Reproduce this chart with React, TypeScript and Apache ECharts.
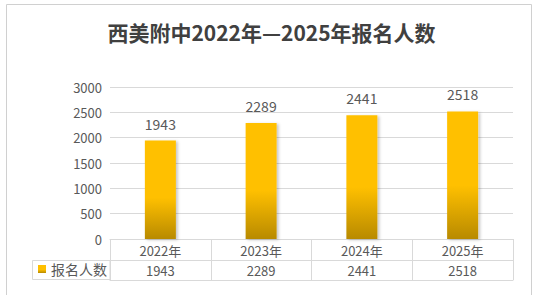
import React, { useEffect, useRef } from "react";
import * as echarts from "echarts";

const titleText = "西美附中2022年—2025年报名人数";
const categories = ["2022年", "2023年", "2024年", "2025年"];
const seriesName = "报名人数";
const values = [1943, 2289, 2441, 2518];
const yTicks = [0, 500, 1000, 1500, 2000, 2500, 3000];

const FONT = "'Noto Sans CJK SC', 'Noto Sans', sans-serif";
const TEXT = "#595959";
const LINE = "#d9d9d9";

export default function App() {
  const ref = useRef<HTMLDivElement>(null);
  useEffect(() => {
    if (!ref.current) return;
    const chart = echarts.init(ref.current, undefined, { renderer: "svg" });
    const gridLeft = 110;
    const gridRight = 30;
    const gridTop = 87;
    const gridBottomY = 239;
    chart.setOption({
      animation: false,
      backgroundColor: "#ffffff",
      textStyle: { fontFamily: FONT },
      title: {
        text: titleText,
        left: "center",
        top: 21,
        padding: 0,
        textStyle: { fontSize: 21, fontWeight: "bold", color: "#404040", fontFamily: FONT },
      },
      legend: {
        data: [seriesName],
        left: 38,
        top: 262,
        padding: 0,
        icon: "rect",
        itemWidth: 8,
        itemHeight: 8,
        textStyle: { fontSize: 14, color: TEXT, fontFamily: FONT },
      },
      grid: {
        left: gridLeft,
        right: gridRight,
        top: gridTop,
        bottom: 295 - gridBottomY,
        containLabel: false,
      },
      xAxis: [
        {
          type: "category",
          data: categories,
          position: "bottom",
          axisLine: { show: true, lineStyle: { color: LINE, width: 1 } },
          axisTick: { show: true, length: 41, lineStyle: { color: LINE, width: 1 } },
          axisLabel: { color: TEXT, fontSize: 13, margin: 5, fontFamily: FONT },
        },
        {
          type: "category",
          data: values.map((v) => String(v)),
          position: "bottom",
          offset: 21,
          axisLine: { show: true, lineStyle: { color: LINE, width: 1 } },
          axisTick: { show: false },
          axisLabel: { color: TEXT, fontSize: 13, margin: 4, fontFamily: FONT },
        },
        {
          type: "category",
          data: categories,
          position: "bottom",
          offset: 41,
          axisLine: { show: true, lineStyle: { color: LINE, width: 1 } },
          axisTick: { show: false },
          axisLabel: { show: false },
        },
      ],
      yAxis: {
        type: "value",
        min: yTicks[0],
        max: yTicks[yTicks.length - 1],
        interval: yTicks[1] - yTicks[0],
        axisLine: { show: false },
        axisTick: { show: false },
        axisLabel: {
          color: TEXT,
          fontSize: 13,
          margin: 8,
          fontFamily: FONT,
          formatter: (v: number) => String(v),
        },
        splitLine: { show: true, lineStyle: { color: LINE, width: 1 } },
      },
      series: [
        {
          name: seriesName,
          type: "bar",
          xAxisIndex: 0,
          data: values,
          barWidth: 31,
          itemStyle: {
            color: new echarts.graphic.LinearGradient(0, 0, 0, 1, [
              { offset: 0, color: "#FFC000" },
              { offset: 0.58, color: "#FFC000" },
              { offset: 1, color: "#B88A00" },
            ]),
            shadowColor: "rgba(0,0,0,0.22)",
            shadowBlur: 3,
            shadowOffsetX: 2,
            shadowOffsetY: 1,
          },
          label: {
            show: true,
            position: "top",
            distance: 10,
            color: TEXT,
            fontSize: 14,
            fontFamily: FONT,
          },
        },
      ],
      graphic: [
        {
          type: "rect",
          silent: true,
          z: -10,
          shape: { x: 6.5, y: 4.5, width: 525, height: 310 },
          style: { fill: "none", stroke: "#d0d0d0", lineWidth: 1 },
        },
        {
          type: "rect",
          silent: true,
          shape: { x: 32.5, y: 260.5, width: 77.5, height: 19 },
          style: { fill: "none", stroke: LINE, lineWidth: 1 },
        },
      ],
    });
    return () => chart.dispose();
  }, []);
  return (
    <div
      ref={ref}
      style={{ position: "fixed", left: 0, top: 0, width: 543, height: 295 }}
    />
  );
}
